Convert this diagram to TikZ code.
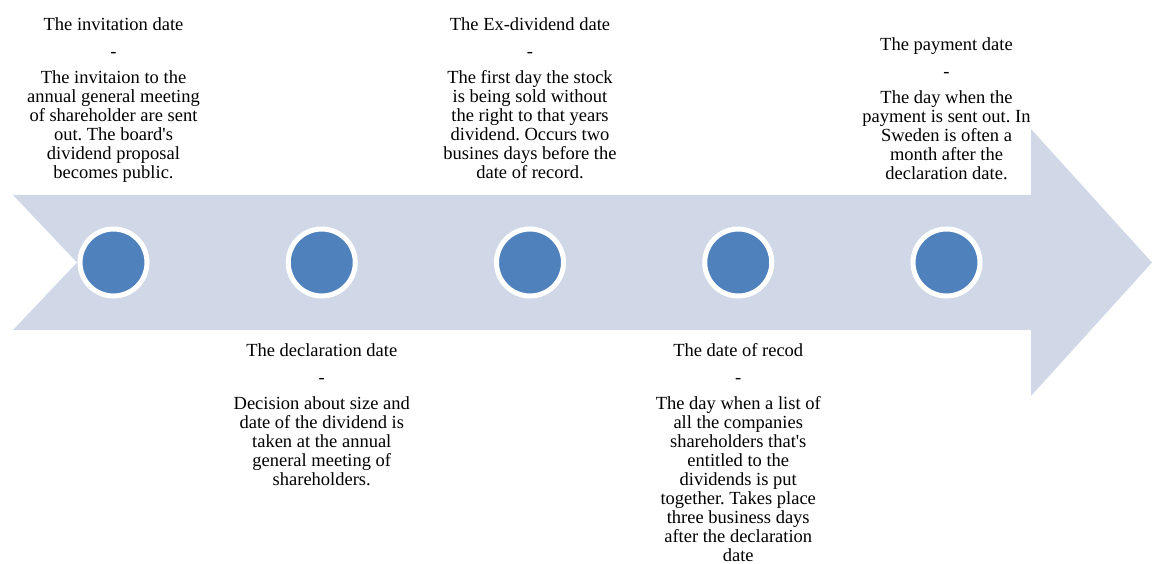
\documentclass[tikz,border=0pt]{standalone}
\usepackage{fontspec}
\setmainfont{Liberation Serif}[Ligatures=TeXOff]
\definecolor{arrowfill}{HTML}{D0D8E8}
\definecolor{dotblue}{HTML}{4F81BD}
\newcommand\textlines[1]{\begin{tabular}[t]{@{}c@{}}#1\end{tabular}}
\begin{document}
\frenchspacing
\begin{tikzpicture}[x=1pt,y=-1pt,
  dot/.style={circle,fill=dotblue,draw=white,line width=5pt,minimum size=67pt,inner sep=0pt},
  txt/.style={inner sep=0pt,anchor=base,font=\fontsize{18.5}{19}\selectfont\frenchspacing}]
\useasboundingbox (0,0) rectangle (1152,564);
% arrow
\fill[arrowfill] (13,195) -- (1031,195) -- (1031,129) -- (1152,262.5) -- (1031,396) -- (1031,330) -- (13,330) -- (77,262.5) -- cycle;
% dots
\foreach \i/\x in {1/113.5,2/321.75,3/530,4/738.25,5/946.5}
  \node[dot] (c\i) at (\x,262.5) {};
% block 1 (top)
\node[txt] (t1) at (113.5,30.5) {The invitation date};
\node[txt] (d1) at (113.5,58) {-};
\node[txt] (b1) at (113.5,84) {\textlines{The invitaion to the\\annual general meeting\\of shareholder are sent\\out. The board's\\dividend proposal\\becomes public.}};
% block 3 (top)
\node[txt] (t3) at (530,30.5) {The Ex-dividend date};
\node[txt] (d3) at (530,58) {-};
\node[txt] (b3) at (530,84) {\textlines{The first day the stock\\is being sold without\\the right to that years\\dividend. Occurs two\\busines days before the\\date of record.}};
% block 5 (top)
\node[txt] (t5) at (946.5,50.5) {The payment date};
\node[txt] (d5) at (946.5,78) {-};
\node[txt] (b5) at (946.5,104) {\textlines{The day when the\\payment is sent out. In\\Sweden is often a\\month after the\\declaration date.}};
% block 2 (bottom)
\node[txt] (t2) at (321.75,356) {The declaration date};
\node[txt] (d2) at (321.75,383.5) {-};
\node[txt] (b2) at (321.75,409.5) {\textlines{Decision about size and\\date of the dividend is\\taken at the annual\\general meeting of\\shareholders.}};
% block 4 (bottom)
\node[txt] (t4) at (738.25,356) {The date of recod};
\node[txt] (d4) at (738.25,383.5) {-};
\node[txt] (b4) at (738.25,409.5) {\textlines{The day when a list of\\all the companies\\shareholders that's\\entitled to the\\dividends is put\\together. Takes place\\three business days\\after the declaration\\date}};
\end{tikzpicture}
\end{document}
